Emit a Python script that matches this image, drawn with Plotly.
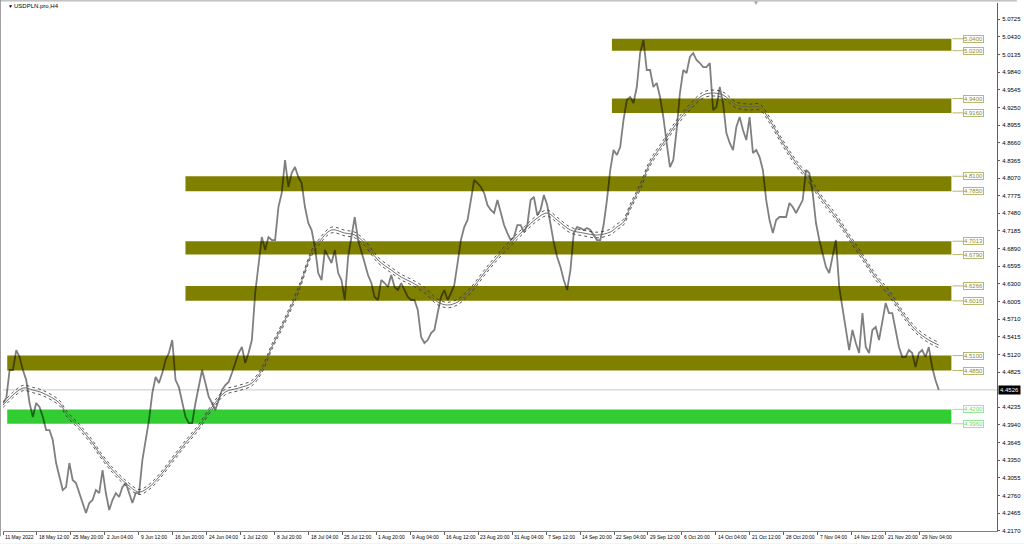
import plotly.graph_objects as go

chart_title = "USDPLN.pro,H4"

# ---- price samples (H4 close, sampled every ~3.1 bars) ----
bars_per_sample = 3.128
price = [
    4.4307, 4.4390, 4.4859, 4.4859, 4.5193, 4.5076, 4.4859, 4.4691, 4.4307, 4.4072,
    4.4307, 4.4240, 4.4072, 4.3855, 4.3855, 4.3688, 4.3303, 4.3069, 4.2851, 4.2901,
    4.3303, 4.3019, 4.2968, 4.2801, 4.2634, 4.2467, 4.2634, 4.2684, 4.2851, 4.2801,
    4.3186, 4.2801, 4.2517, 4.2684, 4.2801, 4.2734, 4.2901, 4.2968, 4.2801, 4.2634,
    4.2801, 4.2801, 4.3353, 4.3688, 4.4022, 4.4474, 4.4742, 4.4641, 4.4808, 4.5026,
    4.5143, 4.5360, 4.4691, 4.4574, 4.4307, 4.4072, 4.3972, 4.3972, 4.4307, 4.4574,
    4.4859, 4.4641, 4.4407, 4.4307, 4.4190, 4.4357, 4.4524, 4.4608, 4.4658, 4.4808,
    4.4976, 4.5143, 4.5243, 4.4976, 4.5143, 4.5360, 4.6147, 4.6582, 4.7083, 4.6866,
    4.7083, 4.7033, 4.7033, 4.7585, 4.7820, 4.8372, 4.7920, 4.8154, 4.8254, 4.8087,
    4.7987, 4.7585, 4.7318, 4.7201, 4.6916, 4.6481, 4.6364, 4.6866, 4.6749, 4.6649,
    4.6866, 4.6481, 4.6364, 4.6030, 4.6749, 4.7083, 4.7418, 4.7033, 4.6816, 4.6649,
    4.6448, 4.6314, 4.6080, 4.6030, 4.6364, 4.6314, 4.6247, 4.6448, 4.6247, 4.6197,
    4.6314, 4.6197, 4.6080, 4.6030, 4.6030, 4.5862, 4.5411, 4.5310, 4.5360, 4.5478,
    4.5528, 4.5812, 4.6080, 4.6197, 4.6030, 4.6147, 4.6281, 4.6649, 4.7033, 4.7251,
    4.7368, 4.7702, 4.8037, 4.7987, 4.7920, 4.7820, 4.7619, 4.7535, 4.7485, 4.7702,
    4.7485, 4.7284, 4.7150, 4.7033, 4.7083, 4.7284, 4.7284, 4.7167, 4.7284, 4.7702,
    4.7753, 4.7451, 4.7535, 4.7786, 4.7619, 4.7284, 4.6983, 4.6749, 4.6582, 4.6364,
    4.6197, 4.6531, 4.7150, 4.7251, 4.7234, 4.7201, 4.7234, 4.7201, 4.7117, 4.7033,
    4.7033, 4.7284, 4.7702, 4.8204, 4.8539, 4.8455, 4.8589, 4.9041, 4.9375, 4.9425,
    4.9325, 4.9593, 5.0161, 5.0379, 4.9877, 4.9877, 4.9593, 4.9660, 4.9425, 4.9091,
    4.8656, 4.8254, 4.8372, 4.8873, 4.9492, 4.9877, 4.9827, 5.0095, 5.0161, 5.0044,
    4.9994, 4.9927, 4.9927, 4.9994, 4.9208, 4.9258, 4.9593, 4.9325, 4.8823, 4.8656,
    4.8539, 4.8924, 4.9091, 4.8873, 4.8706, 4.9091, 4.8489, 4.8539, 4.8422, 4.8204,
    4.7702, 4.7368, 4.7150, 4.7368, 4.7418, 4.7418, 4.7418, 4.7652, 4.7585, 4.7485,
    4.7585, 4.7702, 4.8204, 4.8154, 4.7820, 4.7318, 4.7033, 4.6816, 4.6582, 4.6481,
    4.6749, 4.7033, 4.6247, 4.5913, 4.5528, 4.5193, 4.5528, 4.5310, 4.5143, 4.5812,
    4.5243, 4.5143, 4.5528, 4.5578, 4.5360, 4.5695, 4.5979, 4.5812, 4.5812, 4.5528,
    4.5243, 4.5076, 4.5076, 4.5193, 4.5143, 4.4909, 4.5143, 4.5193, 4.5076, 4.5243,
    4.4909, 4.4691, 4.4526,
]

# ---- moving average (sample index, value) ----
ma_sample = [1, 7, 10, 13, 18, 20, 24, 28, 30, 34, 38, 42, 45, 48, 52, 56, 60, 64, 68, 72,
             76, 79, 82, 86, 90, 94, 96, 100, 104, 107, 110, 114, 118, 121, 124, 128, 132, 135, 138, 142,
             146, 150, 154, 158, 162, 165, 168, 172, 176, 180, 184, 186, 188, 190, 193, 196, 200, 204, 208, 212,
             215, 218, 222, 226, 229, 232, 236, 240, 244, 248, 252, 256, 260, 264, 268, 272, 276, 280, 283]
ma_value = [4.4273, 4.4557, 4.4524, 4.4474, 4.4307, 4.4139, 4.3905, 4.3637, 4.3470, 4.3186,
            4.2968, 4.2818, 4.2901, 4.3069, 4.3353, 4.3637, 4.3905, 4.4240, 4.4491, 4.4557,
            4.4641, 4.4859, 4.5243, 4.5695, 4.6197, 4.6816, 4.6983, 4.7201, 4.7150, 4.7117,
            4.6983, 4.6699, 4.6531, 4.6414, 4.6331, 4.6197, 4.5996, 4.5946, 4.5996, 4.6197,
            4.6481, 4.6749, 4.6983, 4.7201, 4.7401, 4.7485, 4.7368, 4.7201, 4.7150, 4.7117,
            4.7167, 4.7251, 4.7334, 4.7585, 4.7920, 4.8321, 4.8656, 4.8990, 4.9258, 4.9459,
            4.9492, 4.9459, 4.9292, 4.9258, 4.9258, 4.9041, 4.8656, 4.8321, 4.8037, 4.7702,
            4.7418, 4.7083, 4.6749, 4.6414, 4.6147, 4.5812, 4.5528, 4.5360, 4.5277]
envelope_dev = 0.0010

# ---- time axis labels ----
bars_per_label = 32
date_labels = ["11 May 2022", "18 May 12:00", "25 May 20:00", "2 Jun 04:00", "9 Jun 12:00",
               "16 Jun 20:00", "24 Jun 04:00", "1 Jul 12:00", "8 Jul 20:00", "18 Jul 04:00",
               "25 Jul 12:00", "1 Aug 20:00", "9 Aug 04:00", "16 Aug 12:00", "23 Aug 20:00",
               "31 Aug 04:00", "7 Sep 12:00", "14 Sep 20:00", "22 Sep 04:00", "29 Sep 12:00",
               "6 Oct 20:00", "14 Oct 04:00", "21 Oct 12:00", "28 Oct 20:00", "7 Nov 04:00",
               "14 Nov 12:00", "21 Nov 20:00", "29 Nov 04:00"]

price_ticks = [5.0725, 5.0430, 5.0135, 4.9840, 4.9545, 4.9250, 4.8955, 4.8660, 4.8365, 4.8070,
               4.7775, 4.7480, 4.7185, 4.6890, 4.6595, 4.6300, 4.6005, 4.5710, 4.5415, 4.5120,
               4.4825, 4.4235, 4.3940, 4.3645, 4.3350, 4.3055, 4.2760, 4.2465, 4.2170]
last_price = 4.4526

# ---- zones ----
zone_top = [5.0400, 4.9400, 4.8100, 4.7013, 4.6266, 4.5100, 4.4200]
zone_bottom = [5.0200, 4.9160, 4.7850, 4.6790, 4.6016, 4.4850, 4.3960]
zone_start_bar = [574, 574, 172, 172, 172, 4, 4]
zone_end_bar = 894
zone_kind = ["resistance"] * 6 + ["support"]

zone_fill = {"resistance": "#808000", "support": "#32cd32"}
zone_text = {"resistance": "#8c8c2c", "support": "#6cd86c"}
zone_border = {"resistance": "#b8b870", "support": "#98e698"}

x_range = [0, 937]
y_range = [4.2166, 5.0998]
FONT = "Liberation Sans"

fig = go.Figure()

x_price = [i * bars_per_sample for i in range(len(price))]
x_ma = [(k - 1) * bars_per_sample for k in ma_sample]
ma_up = [v * (1 + envelope_dev) for v in ma_value]
ma_dn = [v * (1 - envelope_dev) for v in ma_value]

fig.add_trace(go.Scatter(x=x_price, y=price, mode="lines",
                         line=dict(color="rgba(0,0,0,0.5)", width=1.8),
                         hoverinfo="skip", showlegend=False))
fig.add_trace(go.Scatter(x=x_ma, y=ma_up, mode="lines",
                         line=dict(color="#303030", width=0.8, dash="dot", shape="spline"),
                         hoverinfo="skip", showlegend=False))
fig.add_trace(go.Scatter(x=x_ma, y=ma_dn, mode="lines",
                         line=dict(color="#303030", width=0.8, dash="dot", shape="spline"),
                         hoverinfo="skip", showlegend=False))
fig.add_trace(go.Scatter(x=x_ma, y=ma_value, mode="lines",
                         line=dict(color="#606060", width=0.9, shape="spline"),
                         hoverinfo="skip", showlegend=False))

shapes = []
annotations = []
for top, bot, start, kind in zip(zone_top, zone_bottom, zone_start_bar, zone_kind):
    shapes.append(dict(type="rect", xref="x", yref="y", x0=start, x1=zone_end_bar,
                       y0=bot, y1=top, fillcolor=zone_fill[kind],
                       line=dict(width=0), layer="below"))
    for p in (top, bot):
        shapes.append(dict(type="line", xref="x", yref="y", x0=zone_end_bar + 1,
                           x1=zone_end_bar + 11, y0=p, y1=p,
                           line=dict(color=zone_border[kind], width=1)))
        annotations.append(dict(x=zone_end_bar + 11, y=p, xref="x", yref="y",
                                text=f"{p:.4f}", showarrow=False, xanchor="left",
                                yanchor="middle",
                                font=dict(family=FONT, size=6, color=zone_text[kind]),
                                bgcolor="#ffffff", bordercolor=zone_border[kind],
                                borderwidth=1, borderpad=0))

# current price line
shapes.append(dict(type="line", xref="paper", yref="y", x0=0, x1=1,
                   y0=last_price, y1=last_price,
                   line=dict(color="#c8c8c8", width=1), layer="below"))
# window frame
shapes.append(dict(type="line", xref="paper", yref="paper", x0=-0.0025, x1=-0.0025,
                   y0=-0.01, y1=1.01, line=dict(color="#a0a0a0", width=1)))
shapes.append(dict(type="line", xref="paper", yref="paper", x0=-0.003, x1=1.02,
                   y0=1.004, y1=1.004, line=dict(color="#a0a0a0", width=1)))
shapes.append(dict(type="rect", xref="paper", yref="paper", x0=-0.01, x1=1.03,
                   y0=-0.0235, y1=-0.03, fillcolor="#e8e8e8", line=dict(width=0)))

annotations.append(dict(x=1, y=last_price, xref="paper", yref="y", text=f"{last_price:.4f}",
                        showarrow=False, xanchor="left", yanchor="middle", xshift=1,
                        font=dict(family=FONT, size=6, color="#ffffff"),
                        bgcolor="#000000", borderpad=1))

for j, lab in enumerate(date_labels):
    annotations.append(dict(x=j * bars_per_label, y=0, xref="x", yref="paper", text=lab,
                            showarrow=False, xanchor="left", yanchor="middle",
                            xshift=0, yshift=-6,
                            font=dict(family=FONT, size=5, color="#000000")))

annotations.append(dict(x=0.003, y=0.995, xref="paper", yref="paper", text="▼",
                        showarrow=False, xanchor="left", yanchor="middle",
                        font=dict(family=FONT, size=5, color="#000000")))
annotations.append(dict(x=0.009, y=0.995, xref="paper", yref="paper", text=chart_title,
                        showarrow=False, xanchor="left", yanchor="middle",
                        font=dict(family=FONT, size=6, color="#000000")))
annotations.append(dict(x=0.758, y=1.0, xref="paper", yref="paper", text="▼",
                        showarrow=False, xanchor="center", yanchor="middle",
                        font=dict(family=FONT, size=6, color="#a0a0a0")))

fig.update_layout(
    width=1024, height=544,
    margin=dict(l=3, r=23, t=3, b=13),
    paper_bgcolor="#ffffff", plot_bgcolor="#ffffff",
    shapes=shapes, annotations=annotations,
    showlegend=False,
    xaxis=dict(range=x_range, tickvals=[j * bars_per_label for j in range(len(date_labels))],
               showticklabels=False, ticks="outside", ticklen=3, tickcolor="#606060",
               showgrid=False, zeroline=False, showline=True, linecolor="#808080",
               linewidth=1, fixedrange=True),
    yaxis=dict(range=y_range, side="right", tickvals=price_ticks,
               ticktext=[f"{t:.4f}" for t in price_ticks],
               ticks="outside", ticklen=2, tickcolor="#606060", ticklabelstandoff=1,
               tickfont=dict(family=FONT, size=6, color="#000000"),
               showgrid=False, zeroline=False, showline=True, linecolor="#606060",
               linewidth=1, fixedrange=True),
)

fig.write_html("out.html", config={"responsive": False, "displayModeBar": False},
               post_script="document.body.style.margin='0';document.body.style.overflow='hidden';")
